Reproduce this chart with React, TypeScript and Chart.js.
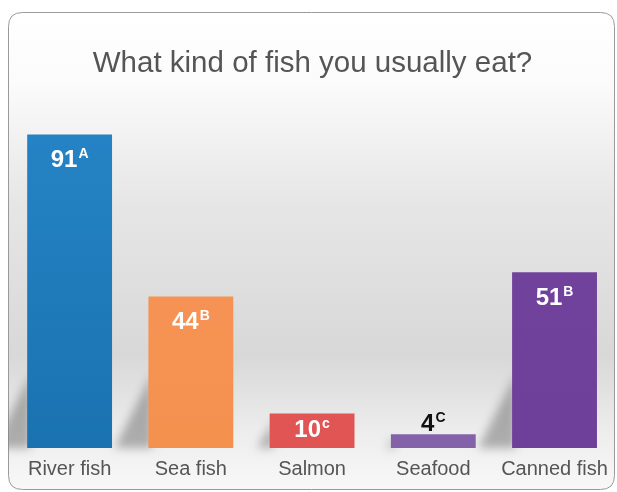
import React, { useEffect, useRef } from "react";
import { Chart, registerables } from "chart.js";

Chart.register(...registerables);

const TITLE = "What kind of fish you usually eat?";
const categories = ["River fish", "Sea fish", "Salmon", "Seafood", "Canned fish"];
const values = [91, 44, 10, 4, 51];
const letters = ["A", "B", "c", "C", "B"];
const barColors = ["#1a72b0", "#f5914f", "#e05454", "#8462aa", "#6e409a"];
const barTopColors = ["#2685c7", "#f7955a", "#e35a5a", "#8766ad", "#72449d"];
const labelInside = [true, true, true, false, true];

const FONT = "'Liberation Sans', Arial, Helvetica, sans-serif";

function boxPath(ctx: any, width: number, height: number) {
  const x = 8.5, y = 12.5, w = width - 11, h = height - 15, r = 14;
  ctx.beginPath();
  ctx.moveTo(x + r, y);
  ctx.lineTo(x + w - r, y);
  ctx.quadraticCurveTo(x + w, y, x + w, y + r);
  ctx.lineTo(x + w, y + h - r);
  ctx.quadraticCurveTo(x + w, y + h, x + w - r, y + h);
  ctx.lineTo(x + r, y + h);
  ctx.quadraticCurveTo(x, y + h, x, y + h - r);
  ctx.lineTo(x, y + r);
  ctx.quadraticCurveTo(x, y, x + r, y);
  ctx.closePath();
}

const bgPlugin = {
  id: "bgBox",
  beforeDraw(chart: any) {
    const { ctx, width, height } = chart;
    ctx.save();
    boxPath(ctx, width, height);
    const g = ctx.createLinearGradient(0, 12, 0, height - 3);
    g.addColorStop(0, "#ffffff");
    g.addColorStop(0.15, "#fbfbfb");
    g.addColorStop(0.4, "#e6e6e6");
    g.addColorStop(0.72, "#d8d8d8");
    g.addColorStop(0.88, "#ededed");
    g.addColorStop(1, "#f8f8f8");
    ctx.fillStyle = g;
    ctx.fill();
    ctx.strokeStyle = "#9a9a9a";
    ctx.lineWidth = 1;
    ctx.stroke();
    ctx.restore();
  },
  beforeDatasetsDraw(chart: any) {
    const { ctx, width, height } = chart;
    const meta = chart.getDatasetMeta(0);
    ctx.save();
    boxPath(ctx, width, height);
    ctx.clip();
    ctx.filter = "blur(5px)";
    ctx.fillStyle = "rgba(90,90,90,0.45)";
    meta.data.forEach((bar: any) => {
      const left = bar.x - bar.width / 2;
      const h = bar.base - bar.y;
      const s = Math.min(h * 0.8, 75);
      const d = s * 0.45;
      ctx.beginPath();
      ctx.moveTo(left + 4, bar.base);
      ctx.lineTo(left + 4, bar.base - s);
      ctx.lineTo(left - d, bar.base);
      ctx.closePath();
      ctx.fill();
    });
    ctx.restore();
  },
};

const labelPlugin = {
  id: "supLabels",
  afterDatasetsDraw(chart: any) {
    const { ctx } = chart;
    const meta = chart.getDatasetMeta(0);
    ctx.save();
    meta.data.forEach((bar: any, i: number) => {
      const main = String(values[i]);
      const sup = letters[i];
      ctx.font = `bold 24px ${FONT}`;
      const mw = ctx.measureText(main).width;
      ctx.font = `bold 14px ${FONT}`;
      const sw = ctx.measureText(sup).width;
      const total = mw + 1 + sw;
      const left = bar.x - total / 2;
      let baseline: number;
      const hgt = bar.base - bar.y;
      if (!labelInside[i]) baseline = bar.y - 3;
      else if (hgt > 60) baseline = bar.y + 33;
      else baseline = (bar.y + bar.base) / 2 + 6;
      ctx.fillStyle = labelInside[i] ? "#ffffff" : "#111111";
      ctx.textBaseline = "alphabetic";
      ctx.textAlign = "left";
      ctx.font = `bold 24px ${FONT}`;
      ctx.fillText(main, left, baseline);
      ctx.font = `bold 14px ${FONT}`;
      ctx.fillText(sup, left + mw + 1, baseline - 9);
    });
    ctx.restore();
  },
};

export default function App() {
  const ref = useRef<HTMLCanvasElement>(null);
  useEffect(() => {
    document.body.style.margin = "0";
    const chart = new Chart(ref.current!, {
      type: "bar",
      data: {
        labels: categories,
        datasets: [
          {
            data: values,
            backgroundColor: (c: any) => {
              const i = c.dataIndex;
              const area = c.chart.chartArea;
              if (!area) return barColors[i];
              const g = c.chart.ctx.createLinearGradient(0, area.top, 0, area.bottom);
              g.addColorStop(0, barTopColors[i]);
              g.addColorStop(1, barColors[i]);
              return g;
            },
            borderWidth: 0,
            categoryPercentage: 0.7,
            barPercentage: 1,
          },
        ],
      },
      options: {
        animation: false,
        responsive: false,
        layout: { padding: { left: 9, right: 1, top: 0, bottom: 2 } },
        plugins: {
          legend: { display: false },
          tooltip: { enabled: false },
          title: {
            display: true,
            text: TITLE,
            color: "#555555",
            font: { size: 29.5, family: FONT, weight: "normal" },
            padding: { top: 46, bottom: 22 },
          },
        },
        scales: {
          x: {
            grid: { display: false, drawTicks: false },
            border: { display: false },
            ticks: { color: "#555555", font: { size: 20, family: FONT }, padding: 9 },
          },
          y: { display: false, min: 0, max: 100 },
        },
      },
      plugins: [bgPlugin, labelPlugin],
    });
    return () => chart.destroy();
  }, []);
  return <canvas ref={ref} width={617} height={492} style={{ display: "block" }} />;
}
